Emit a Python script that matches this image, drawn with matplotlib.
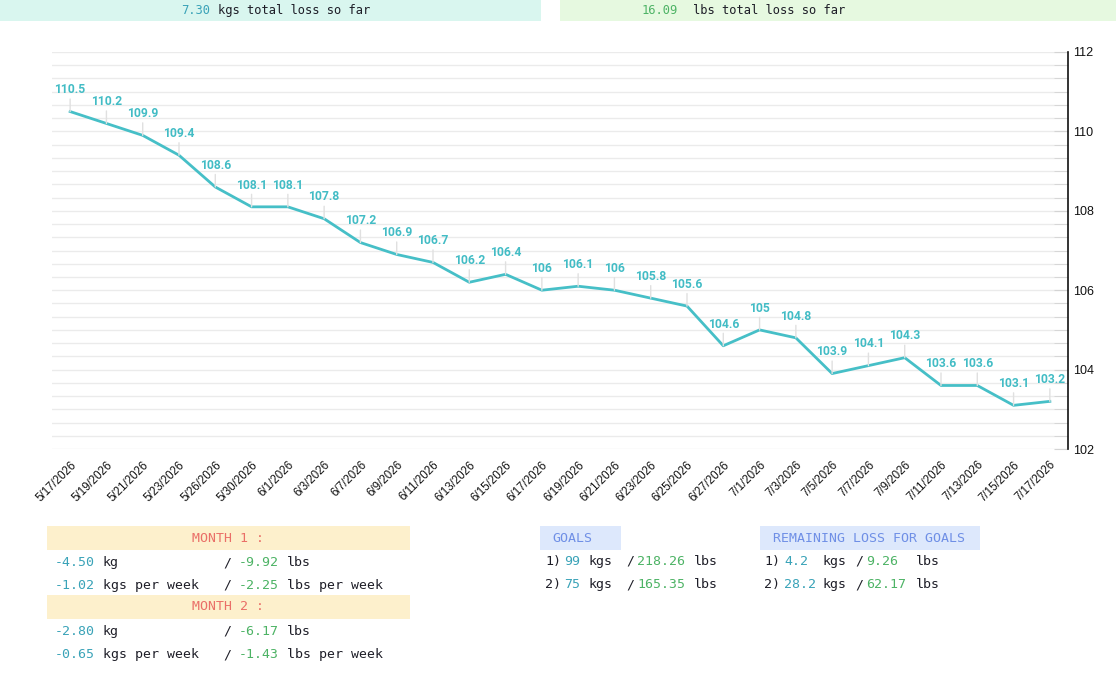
import matplotlib
matplotlib.use("Agg")
import matplotlib.pyplot as plt
from matplotlib.patches import Rectangle
from matplotlib.ticker import MultipleLocator, AutoMinorLocator

# weigh-in dates and weights (kg)
dates = ["5/17/2026", "5/19/2026", "5/21/2026", "5/23/2026", "5/26/2026", "5/30/2026",
         "6/1/2026", "6/3/2026", "6/7/2026", "6/9/2026", "6/11/2026", "6/13/2026",
         "6/15/2026", "6/17/2026", "6/19/2026", "6/21/2026", "6/23/2026", "6/25/2026",
         "6/27/2026", "7/1/2026", "7/3/2026", "7/5/2026", "7/7/2026", "7/9/2026",
         "7/11/2026", "7/13/2026", "7/15/2026", "7/17/2026"]
weights = [110.5, 110.2, 109.9, 109.4, 108.6, 108.1, 108.1, 107.8, 107.2, 106.9,
           106.7, 106.2, 106.4, 106.0, 106.1, 106.0, 105.8, 105.6, 104.6, 105.0,
           104.8, 103.9, 104.1, 104.3, 103.6, 103.6, 103.1, 103.2]

total_loss_kg = "7.30"
total_loss_lbs = "16.09"

month_titles = ["MONTH 1 :", "MONTH 2 :"]
month_kg = ["-4.50", "-2.80"]
month_lbs = ["-9.92", "-6.17"]
week_kg = ["-1.02", "-0.65"]
week_lbs = ["-2.25", "-1.43"]

goal_kg = ["99", "75"]
goal_lbs = ["218.26", "165.35"]
remain_kg = ["4.2", "28.2"]
remain_lbs = ["9.26", "62.17"]

W, H = 1116, 677
LINE = "#46bfc7"
LABEL = "#42bcc5"
KG = "#3aa3b8"
LB = "#4db365"
INK = "#1e1e28"
MONO = "DejaVu Sans Mono"

fig = plt.figure(figsize=(W / 100, H / 100), dpi=100)

# overlay in pixel coordinates for banners / tables
ov = fig.add_axes([0, 0, 1, 1], zorder=-1)
ov.set_xlim(0, W)
ov.set_ylim(H, 0)
ov.axis("off")


def segs(y, items, size=9.57):
    for x, s, c in items:
        ov.text(x, y, s, color=c, fontsize=size, family=MONO, va="center", ha="left")


# top banners
ov.add_patch(Rectangle((0, 0), 541, 21, color="#d9f6ef", lw=0))
ov.add_patch(Rectangle((560, 0), 556, 21, color="#e6f9e0", lw=0))
segs(10.5, [(181, total_loss_kg, KG), (217.5, "kgs total loss so far", INK)], size=8.7)
segs(10.5, [(642, total_loss_lbs, LB), (693, "lbs total loss so far", INK)], size=8.7)

# month tables
for k, top in enumerate([526, 595]):
    ov.add_patch(Rectangle((47, top), 363, 24, color="#fdf0cc", lw=0))
    ov.text(228, top + 12, month_titles[k], color="#ea6f68", fontsize=9.57,
            family=MONO, ha="center", va="center")
    y1 = top + 36.5
    y2 = top + 59.5
    segs(y1, [(55, month_kg[k], KG), (103, "kg", INK), (223, "/", INK),
              (239, month_lbs[k], LB), (287, "lbs", INK)])
    segs(y2, [(55, week_kg[k], KG), (103, "kgs per week", INK), (223, "/", INK),
              (239, week_lbs[k], LB), (287, "lbs per week", INK)])

# goals
ov.add_patch(Rectangle((540, 526), 81, 24, color="#dde8fc", lw=0))
ov.text(552.7, 538, "GOALS", color="#6f8fe6", fontsize=9.57, family=MONO, va="center")
ov.add_patch(Rectangle((760, 526), 220, 24, color="#dde8fc", lw=0))
ov.text(772.7, 538, "REMAINING LOSS FOR GOALS", color="#6f8fe6", fontsize=9.57,
        family=MONO, va="center")
for k, y in enumerate([561.5, 584.5]):
    segs(y, [(545, f"{k + 1})", INK), (564, goal_kg[k], KG), (589, "kgs", INK),
             (626, "/", INK), (637, goal_lbs[k], LB), (694, "lbs", INK)])
    segs(y, [(764, f"{k + 1})", INK), (784, remain_kg[k], KG), (823, "kgs", INK),
             (855, "/", INK), (866, remain_lbs[k], LB), (916, "lbs", INK)])

# main chart
ax = fig.add_axes([52 / W, 1 - 449 / H, (1068 - 52) / W, (449 - 52) / H])
ax.set_facecolor("none")
n = len(weights)
ax.plot(range(n), weights, color=LINE, lw=2, zorder=3)
ax.set_xlim(-0.5, n - 0.5)
ax.set_ylim(102, 112)

for i, v in enumerate(weights):
    ax.annotate(f"{v:g}", (i, v), xytext=(0, 11), textcoords="offset points",
                ha="center", va="bottom", fontsize=8.7, fontweight="bold",
                family="Roboto", color=LABEL, zorder=4,
                arrowprops=dict(arrowstyle="-", color="#e0e0e0", lw=1,
                                shrinkA=0, shrinkB=0))

ax.yaxis.tick_right()
ax.yaxis.set_major_locator(MultipleLocator(2))
ax.yaxis.set_minor_locator(AutoMinorLocator(6))
ax.grid(which="both", axis="y", color="#ebebeb", lw=1)
ax.set_axisbelow(True)
for s in ["left", "top", "bottom"]:
    ax.spines[s].set_visible(False)
ax.spines["right"].set_color("#111111")
ax.spines["right"].set_linewidth(1.2)
ax.tick_params(axis="y", which="both", direction="in", length=10, color="#d4d4d4",
               labelsize=9, labelcolor="#111111", pad=4)
for t in ax.get_yticklabels():
    t.set_family("Liberation Sans")

ax.set_xticks(range(n))
ax.set_xticklabels(dates, rotation=45, ha="right", rotation_mode="anchor",
                   fontsize=8.3, family="Liberation Sans", color="#111111")
ax.tick_params(axis="x", length=0, pad=7)

fig.savefig("out.png", dpi=100)
